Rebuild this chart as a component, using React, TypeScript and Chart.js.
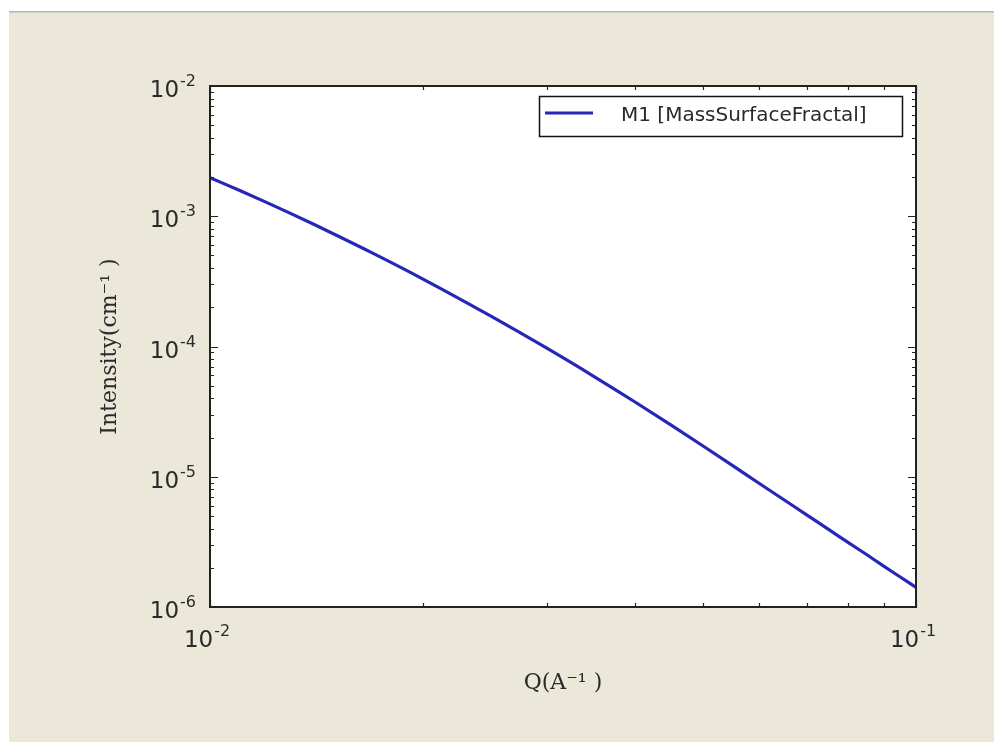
import React, { useEffect, useRef } from "react";
import { Chart, registerables } from "chart.js";

Chart.register(...registerables);

// Q values (Å^-1)
const qValues = [0.01, 0.011, 0.012, 0.013, 0.014, 0.015, 0.017, 0.02, 0.025, 0.03, 0.035, 0.04, 0.045, 0.05, 0.055, 0.06, 0.065, 0.07, 0.075, 0.08, 0.085, 0.09, 0.095, 0.1];
// Intensity (cm^-1)
const intensity = [1.977e-3, 1.582e-3, 1.283e-3, 1.052e-3, 8.71e-4, 7.28e-4, 5.21e-4, 3.31e-4, 1.71e-4, 9.7e-5, 5.88e-5, 3.75e-5, 2.49e-5, 1.714e-5, 1.217e-5, 8.88e-6, 6.66e-6, 5.1e-6, 3.98e-6, 3.15e-6, 2.54e-6, 2.06e-6, 1.7e-6, 1.415e-6];

const seriesLabel = "M1 [MassSurfaceFractal]";
const xMajorTicks = [0.01, 0.1];
const yMajorTicks = [1e-6, 1e-5, 1e-4, 1e-3, 1e-2];
const xTickExponents = ["-2", "-1"];
const yTickExponents = ["-6", "-5", "-4", "-3", "-2"];
const tickBase = "10";
const xTitle = "Q(A⁻¹ )";
const yTitle = "Intensity(cm⁻¹ )";

const W = 994;
const H = 742;
const BEIGE = "#ebe7d9";
const LINE = "#2626b8";
const FRAME = "#222222";
const TEXT = "#2a2a2a";

function minorValues(min: number, max: number) {
  const out: { v: number; major: boolean }[] = [];
  const e0 = Math.floor(Math.log10(min));
  const e1 = Math.ceil(Math.log10(max));
  for (let e = e0; e <= e1; e++) {
    for (let m = 1; m <= 9; m++) {
      const v = m * Math.pow(10, e);
      if (v >= min * 0.999 && v <= max * 1.001) out.push({ v, major: m === 1 });
    }
  }
  return out;
}

function findIdx(arr: number[], v: number) {
  return arr.findIndex((t) => Math.abs(t - v) / t < 1e-6);
}

const BASE_FONT = "23px 'DejaVu Sans'";
const EXP_FONT = "16px 'DejaVu Sans'";

function drawPow(ctx: any, exp: string, x: number, baseline: number, align: "right" | "center", shift: number) {
  ctx.font = BASE_FONT;
  const bw = ctx.measureText(tickBase).width;
  ctx.font = EXP_FONT;
  const ew = ctx.measureText(exp).width;
  const total = bw + 1 + ew;
  const x0 = align === "right" ? x - total : x - total / 2 + shift;
  ctx.textAlign = "left";
  ctx.textBaseline = "alphabetic";
  ctx.font = BASE_FONT;
  ctx.fillText(tickBase, x0, baseline);
  ctx.font = EXP_FONT;
  ctx.fillText(exp, x0 + bw + 1, baseline - 11);
}

const decorPlugin = {
  id: "decor",
  beforeDraw(chart: any) {
    const { ctx, chartArea } = chart;
    ctx.save();
    ctx.fillStyle = "#ffffff";
    ctx.fillRect(0, 0, W, H);
    ctx.fillStyle = BEIGE;
    ctx.fillRect(9, 12, W - 9, H - 12);
    ctx.fillStyle = "#b9b5a9";
    ctx.fillRect(9, 11, W - 9, 1.5);
    ctx.fillStyle = "#ffffff";
    ctx.fillRect(chartArea.left, chartArea.top, chartArea.right - chartArea.left, chartArea.bottom - chartArea.top);
    ctx.restore();
  },
  afterDraw(chart: any) {
    const { ctx, chartArea } = chart;
    const xs = chart.scales.x;
    const ys = chart.scales.y;
    const { left, right, top, bottom } = chartArea;
    ctx.save();
    ctx.strokeStyle = FRAME;
    ctx.lineWidth = 1.2;
    // ticks
    for (const t of minorValues(xs.min, xs.max)) {
      const px = Math.round(xs.getPixelForValue(t.v)) + 0.5;
      const len = t.major ? 8 : 4;
      ctx.beginPath();
      ctx.moveTo(px, bottom);
      ctx.lineTo(px, bottom - len);
      ctx.moveTo(px, top);
      ctx.lineTo(px, top + len);
      ctx.stroke();
    }
    for (const t of minorValues(ys.min, ys.max)) {
      const py = Math.round(ys.getPixelForValue(t.v)) + 0.5;
      const len = t.major ? 8 : 4;
      ctx.beginPath();
      ctx.moveTo(left, py);
      ctx.lineTo(left + len, py);
      ctx.moveTo(right, py);
      ctx.lineTo(right - len, py);
      ctx.stroke();
    }
    // frame
    ctx.lineWidth = 2;
    ctx.strokeRect(left, top, right - left, bottom - top);
    // tick labels (from scale ticks)
    ctx.fillStyle = TEXT;
    for (const t of xs.ticks) {
      const i = findIdx(xMajorTicks, t.value);
      if (i < 0) continue;
      const px = xs.getPixelForValue(t.value);
      drawPow(ctx, xTickExponents[i], px, bottom + 40, "center", -3);
    }
    for (const t of ys.ticks) {
      const i = findIdx(yMajorTicks, t.value);
      if (i < 0) continue;
      const py = ys.getPixelForValue(t.value);
      drawPow(ctx, yTickExponents[i], left - 14, py + 11, "right", 0);
    }
    // legend
    const bx = 539.5, by = 96.5, bw = 363, bh = 40;
    ctx.fillStyle = "#ffffff";
    ctx.fillRect(bx, by, bw, bh);
    ctx.lineWidth = 1.5;
    ctx.strokeStyle = "#111111";
    ctx.strokeRect(bx, by, bw, bh);
    ctx.strokeStyle = LINE;
    ctx.lineWidth = 3;
    ctx.beginPath();
    ctx.moveTo(545, 113);
    ctx.lineTo(593, 113);
    ctx.stroke();
    ctx.fillStyle = TEXT;
    ctx.font = "20px 'DejaVu Sans'";
    ctx.textBaseline = "middle";
    ctx.textAlign = "left";
    ctx.fillText(chart.data.datasets[0].label, 621, 116);
    ctx.restore();
  },
};

export default function App() {
  const ref = useRef<HTMLCanvasElement | null>(null);
  useEffect(() => {
    if (!ref.current) return;
    const chart = new Chart(ref.current, {
      type: "line",
      data: {
        labels: qValues,
        datasets: [
          {
            label: seriesLabel,
            data: qValues.map((q, i) => ({ x: q, y: intensity[i] })),
            borderColor: LINE,
            borderWidth: 3.2,
            pointRadius: 0,
            fill: false,
            cubicInterpolationMode: "monotone",
          },
        ],
      },
      options: {
        animation: false,
        responsive: false,
        devicePixelRatio: 1,
        layout: { padding: { left: 0, top: 86, right: 78, bottom: 0 } },
        plugins: { legend: { display: false }, tooltip: { enabled: false } },
        scales: {
          x: {
            type: "logarithmic",
            min: 0.01,
            max: 0.1,
            afterBuildTicks: (s: any) => {
              s.ticks = xMajorTicks.map((v) => ({ value: v }));
            },
            afterFit: (s: any) => {
              s.height = 135;
            },
            ticks: { display: false, autoSkip: false, maxRotation: 0 },
            grid: { display: false, drawTicks: false },
            border: { display: false },
            title: {
              display: true,
              text: xTitle,
              color: TEXT,
              font: { family: "'DejaVu Serif'", size: 22 },
              padding: { top: 0, bottom: 46 },
            },
          },
          y: {
            type: "logarithmic",
            min: 1e-6,
            max: 1e-2,
            afterBuildTicks: (s: any) => {
              s.ticks = yMajorTicks.map((v) => ({ value: v }));
            },
            afterFit: (s: any) => {
              s.width = 210;
            },
            ticks: { display: false, autoSkip: false },
            grid: { display: false, drawTicks: false },
            border: { display: false },
            title: {
              display: true,
              text: yTitle,
              color: TEXT,
              font: { family: "'DejaVu Serif'", size: 22 },
              padding: { top: 97, bottom: 0 },
            },
          },
        },
      },
      plugins: [decorPlugin],
    } as any);
    return () => chart.destroy();
  }, []);
  return (
    <div style={{ position: "absolute", left: 0, top: 0, width: W, height: H }}>
      <canvas ref={ref} width={W} height={H} style={{ width: W, height: H, display: "block" }} />
    </div>
  );
}
